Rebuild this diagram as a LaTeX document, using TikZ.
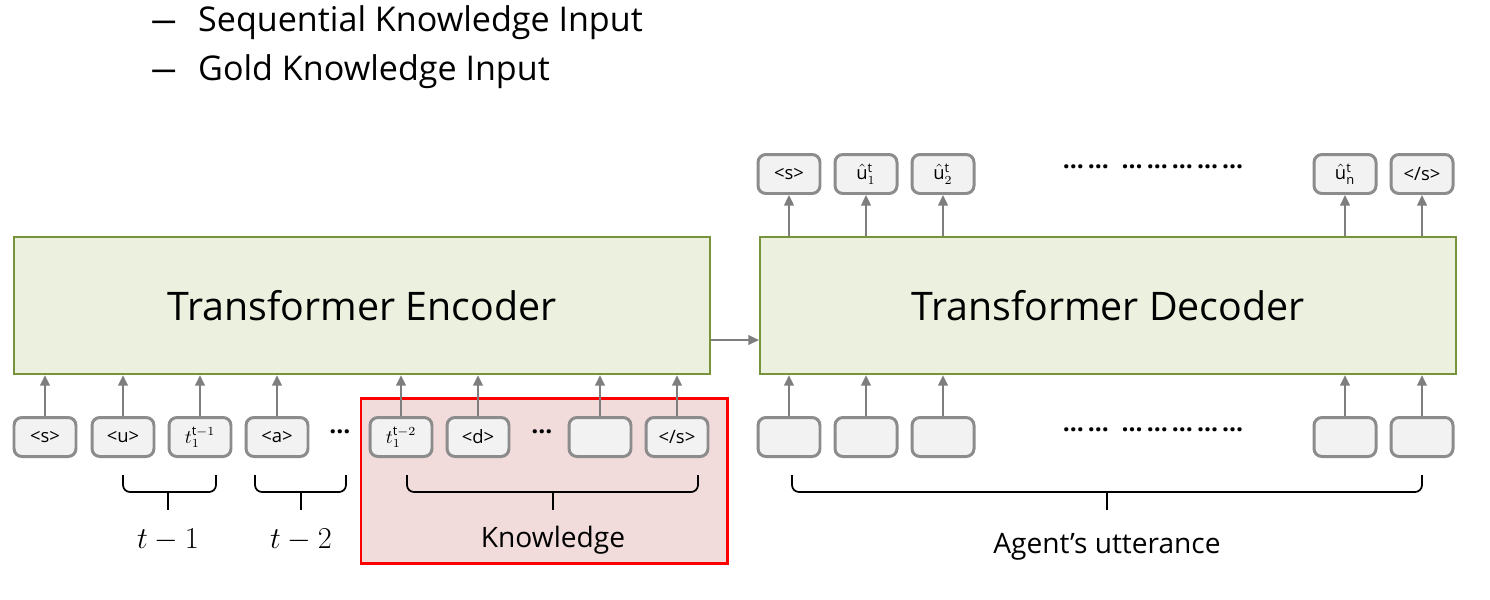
\documentclass[tikz,border=0pt]{standalone}
\usepackage{fontspec}
\setmainfont{Open Sans}
\usepackage{amsmath}
\usetikzlibrary{positioning, calc, arrows.meta}

\definecolor{boxgreen}{HTML}{EBF1DE}
\definecolor{linegreen}{HTML}{77933C}
\definecolor{tokgray}{HTML}{F2F2F2}
\definecolor{edgegray}{HTML}{8C8C8C}
\definecolor{knowpink}{HTML}{F2DCDB}

\tikzset{
  tok/.style={draw=edgegray, line width=1.7pt, fill=tokgray, rounded corners=4.5pt,
    minimum width=1.24cm, minimum height=0.78cm, inner sep=0pt, font=\fontsize{10.5}{11}\selectfont},
  block/.style={draw=linegreen, line width=1.3pt, fill=boxgreen, inner sep=0pt,
    font=\fontsize{22.4}{26}\selectfont},
  feed/.style={draw=edgegray!90!black, line width=1.1pt, -{Triangle[length=6pt,width=5.5pt]}},
  brc/.style={line width=1pt, rounded corners=4pt},
  head/.style={anchor=base west, font=\fontsize{19.4}{22}\selectfont},
  lab/.style={font=\fontsize{16}{18}\selectfont},
  dotrow/.style={font=\bfseries\fontsize{14}{14}\selectfont},
}

\begin{document}
\begin{tikzpicture}[x=0.02cm, y=-0.02cm]
    \useasboundingbox (0,0) rectangle (1490,599);

    % header
    \node[head] (dash1) at (144,31) {\scalebox{1.6}[1]{–}};
    \node[head] (item1) at (192,31) {Sequential Knowledge Input};
    \node[head] (dash2) at (144,80) {\scalebox{1.6}[1]{–}};
    \node[head] (item2) at (192,80) {Gold Knowledge Input};

    % knowledge area
    \draw[red, line width=1.7pt, fill=knowpink] (361,398) rectangle (727,563);

    % main blocks
    \node[block, minimum width=13.92cm, minimum height=2.74cm] (enc) at (362,305.5) {Transformer Encoder};
    \node[block, minimum width=13.92cm, minimum height=2.74cm] (dec) at (1108,305.5) {Transformer Decoder};
    \draw[feed] (enc.east |- 0,340) -- (dec.west |- 0,340);

    % encoder input tokens
    \node[tok] (es)  at (45,437)  {<s>};
    \node[tok] (eu)  at (123,437) {<u>};
    \node[tok] (et1) at (200,437) {$t_1^{\mathrm{t}-1}$};
    \node[tok] (ea)  at (277,437) {<a>};
    \node[dotrow] (edots1) at (340,432) {…};
    \node[tok] (et2) at (401,437) {$t_1^{\mathrm{t}-2}$};
    \node[tok] (ed)  at (478,437) {<d>};
    \node[dotrow] (edots2) at (542,432) {…};
    \node[tok] (eb)  at (600,437) {};
    \node[tok] (ees) at (677,437) {</s>};
    \foreach \t in {es,eu,et1,ea,et2,ed,eb,ees}
        \draw[feed] (\t.north) -- (\t.north |- enc.south);

    % decoder input tokens
    \node[tok] (di1) at (789,437)  {};
    \node[tok] (di2) at (866,437)  {};
    \node[tok] (di3) at (943,437)  {};
    \node[dotrow] (didots) at (1153,430) {…\,…\ \ …\,…\,…\,…\,…};
    \node[tok] (di4) at (1345,437) {};
    \node[tok] (di5) at (1422,437) {};
    \foreach \t in {di1,di2,di3,di4,di5}
        \draw[feed] (\t.north) -- (\t.north |- dec.south);

    % decoder output tokens
    \node[tok] (do1) at (789,174)  {<s>};
    \node[tok] (do2) at (866,174)  {$\hat{\mathrm{u}}_1^{\mathrm{t}}$};
    \node[tok] (do3) at (943,174)  {$\hat{\mathrm{u}}_2^{\mathrm{t}}$};
    \node[dotrow] (dodots) at (1153,167) {…\,…\ \ …\,…\,…\,…\,…};
    \node[tok] (do4) at (1345,174) {$\hat{\mathrm{u}}_{\mathrm{n}}^{\mathrm{t}}$};
    \node[tok] (do5) at (1422,174) {</s>};
    \foreach \t in {do1,do2,do3,do4,do5}
        \draw[feed] (\t.south |- dec.north) -- (\t.south);

    % braces
    \draw[brc] (123,475) -- (123,492) -- (216,492) -- (216,475);
    \draw[line width=1pt] (168,492) -- (168,510);
    \draw[brc] (255,475) -- (255,492) -- (346,492) -- (346,475);
    \draw[line width=1pt] (301,492) -- (301,510);
    \draw[brc] (407,475) -- (407,492) -- (698,492) -- (698,475);
    \draw[line width=1pt] (553,492) -- (553,510);
    \draw[brc] (792,475) -- (792,492) -- (1422,492) -- (1422,475);
    \draw[line width=1pt] (1107,492) -- (1107,510);

    % labels
    \node[lab] (l1) at (168,540) {$t-1$};
    \node[lab] (l2) at (301,540) {$t-2$};
    \node[lab] (lk) at (553,540) {Knowledge};
    \node[lab] (la) at (1107,547) {Agent’s utterance};
\end{tikzpicture}
\end{document}
